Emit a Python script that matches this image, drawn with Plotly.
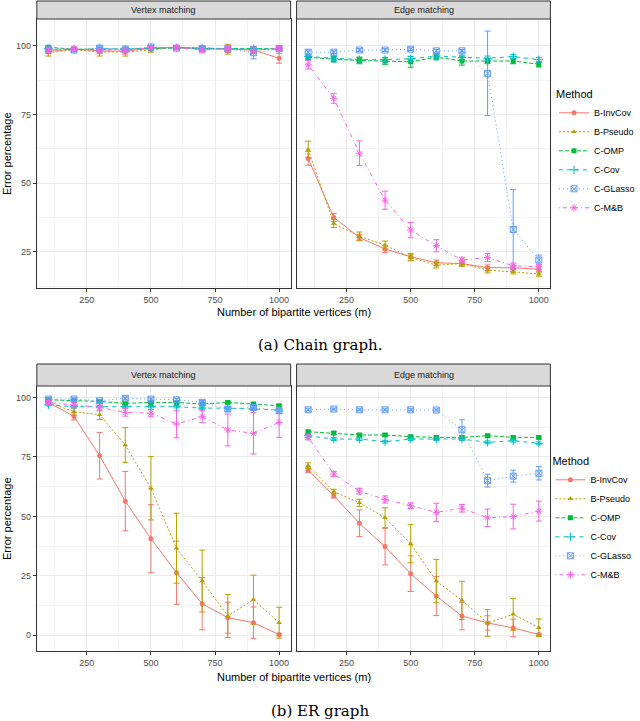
import plotly.graph_objects as go

# x values: number of bipartite vertices
m_vals = [100, 200, 300, 400, 500, 600, 700, 800, 900, 1000]

methods = ["B-InvCov", "B-Pseudo", "C-OMP", "C-Cov", "C-GLasso", "C-M&B"]
colors = ["#F8766D", "#B79F00", "#00BA38", "#00BFC4", "#619CFF", "#F564E3"]
symbols = ["circle", "triangle-up", "square", "cross-thin-open", "square-x-open", "asterisk-open"]
dashes = ["solid", "2px,2px", "4px,2px", "4px,4px", "1px,3px", "1px,3px,4px,3px"]

# (a) chain graph, vertex matching
chain_vtx = {
    "B-InvCov": [98.0, 98.8, 98.2, 98.0, 99.2, 99.5, 99.0, 98.8, 98.5, 95.5],
    "B-Pseudo": [97.5, 98.6, 97.8, 97.8, 98.5, 99.5, 99.3, 98.8, 98.5, 99.0],
    "C-OMP": [99.5, 98.8, 98.8, 98.8, 99.0, 99.3, 99.0, 99.0, 99.0, 99.0],
    "C-Cov": [99.0, 98.6, 99.0, 98.8, 99.3, 99.3, 99.2, 99.0, 99.0, 98.8],
    "C-GLasso": [98.8, 98.5, 99.2, 98.8, 99.6, 99.2, 99.0, 99.0, 97.5, 99.0],
    "C-M&B": [98.5, 99.0, 98.5, 98.5, 99.3, 99.3, 98.5, 99.0, 98.5, 99.0],
}
chain_vtx_sd = {
    "B-InvCov": [0.8, 0.6, 1.0, 1.0, 0.6, 0.5, 0.8, 1.2, 1.0, 1.8],
    "B-Pseudo": [1.2, 0.6, 1.5, 1.5, 0.8, 0.5, 0.8, 1.8, 1.2, 1.0],
    "C-OMP": [0.5, 0.5, 0.5, 0.5, 0.5, 0.5, 0.5, 0.5, 0.5, 0.5],
    "C-Cov": [0.5, 0.5, 0.5, 0.5, 0.5, 0.5, 0.5, 0.5, 0.5, 0.5],
    "C-GLasso": [0.6, 0.6, 0.8, 0.6, 0.5, 0.5, 0.6, 0.8, 2.2, 0.8],
    "C-M&B": [0.8, 0.6, 0.8, 0.8, 0.5, 0.5, 1.0, 0.8, 1.0, 0.8],
}

# (a) chain graph, edge matching
chain_edge = {
    "B-InvCov": [59.0, 37.5, 30.2, 26.0, 23.2, 21.0, 20.7, 19.2, 19.2, 18.6],
    "B-Pseudo": [62.3, 35.3, 30.7, 27.4, 22.9, 20.1, 20.7, 18.3, 17.7, 16.9],
    "C-OMP": [95.9, 95.1, 94.7, 94.5, 94.2, 95.9, 94.5, 94.5, 94.5, 93.3],
    "C-Cov": [96.1, 95.5, 95.0, 95.0, 95.3, 96.3, 95.8, 95.5, 96.1, 95.0],
    "C-GLasso": [97.7, 97.7, 98.5, 98.5, 98.8, 98.2, 98.2, 90.0, 33.1, 22.0],
    "C-M&B": [93.1, 80.9, 60.9, 43.8, 32.9, 27.2, 22.0, 22.9, 19.9, 19.5],
}
chain_edge_sd = {
    "B-InvCov": [2.5, 1.5, 1.2, 1.3, 1.2, 1.0, 0.8, 1.0, 0.8, 1.0],
    "B-Pseudo": [3.0, 1.5, 1.5, 1.5, 1.2, 1.0, 1.0, 1.0, 0.8, 0.8],
    "C-OMP": [1.0, 1.0, 1.2, 1.2, 2.0, 1.0, 1.5, 1.0, 1.0, 1.0],
    "C-Cov": [0.8, 0.8, 0.8, 0.8, 0.8, 0.8, 0.8, 0.8, 0.8, 0.8],
    "C-GLasso": [0.8, 0.5, 0.5, 0.5, 0.5, 0.5, 0.5, 15.4, 14.6, 1.8],
    "C-M&B": [1.5, 1.8, 4.5, 3.3, 2.8, 2.2, 1.0, 1.5, 1.0, 1.0],
}

# (b) ER graph, vertex matching
er_vtx = {
    "B-InvCov": [97.9, 92.0, 75.5, 56.4, 40.6, 26.3, 13.3, 7.4, 5.3, 0.3],
    "B-Pseudo": [97.9, 94.0, 92.7, 80.0, 61.8, 36.6, 22.8, 8.1, 15.0, 5.3],
    "C-OMP": [99.0, 98.6, 98.3, 97.5, 97.9, 97.9, 97.2, 97.9, 97.2, 96.5],
    "C-Cov": [96.9, 96.1, 96.1, 96.1, 96.1, 96.1, 95.5, 95.5, 95.1, 94.7],
    "C-GLasso": [99.3, 99.3, 98.6, 99.6, 99.3, 99.0, 97.9, 95.1, 95.8, 94.4],
    "C-M&B": [97.9, 96.9, 95.8, 93.7, 93.4, 88.8, 91.9, 86.3, 84.9, 89.5],
}
er_vtx_sd = {
    "B-InvCov": [0.8, 1.5, 9.8, 12.5, 14.3, 13.3, 11.0, 6.5, 6.6, 0.5],
    "B-Pseudo": [0.8, 1.5, 2.0, 7.3, 13.3, 14.7, 13.0, 9.0, 10.3, 6.5],
    "C-OMP": [0.5, 0.5, 0.5, 0.5, 0.5, 0.5, 0.5, 0.5, 0.5, 0.5],
    "C-Cov": [0.5, 0.5, 0.5, 0.5, 0.5, 0.5, 0.5, 0.5, 0.5, 0.5],
    "C-GLasso": [0.5, 0.5, 0.5, 0.6, 0.5, 0.5, 0.8, 1.0, 1.0, 1.2],
    "C-M&B": [1.0, 1.2, 1.5, 1.6, 1.5, 5.8, 2.5, 6.7, 8.7, 6.3],
}

# (b) ER graph, edge matching
er_edge = {
    "B-InvCov": [69.5, 58.7, 47.1, 37.3, 25.9, 16.5, 8.1, 5.2, 3.1, 0.3],
    "B-Pseudo": [71.3, 60.4, 55.7, 49.4, 38.5, 22.8, 14.7, 5.2, 8.8, 3.2],
    "C-OMP": [85.6, 85.0, 84.2, 84.2, 83.5, 83.2, 83.2, 83.9, 83.2, 83.2],
    "C-Cov": [83.9, 82.5, 82.5, 81.4, 82.5, 82.5, 82.5, 81.1, 81.8, 80.7],
    "C-GLasso": [94.8, 95.1, 94.8, 94.8, 94.8, 94.7, 86.4, 65.0, 66.9, 68.1],
    "C-M&B": [83.2, 67.8, 60.6, 57.1, 54.5, 51.7, 53.4, 49.4, 49.9, 52.2],
}
er_edge_sd = {
    "B-InvCov": [1.0, 1.0, 5.6, 7.7, 7.5, 8.2, 5.8, 3.0, 3.7, 0.5],
    "B-Pseudo": [1.2, 1.0, 1.5, 4.2, 8.0, 9.1, 8.0, 5.6, 6.7, 3.7],
    "C-OMP": [0.6, 0.6, 0.6, 0.6, 0.6, 0.6, 0.6, 0.6, 0.6, 0.6],
    "C-Cov": [0.6, 0.6, 0.6, 0.6, 0.6, 0.6, 0.6, 0.6, 0.6, 0.6],
    "C-GLasso": [0.4, 0.4, 0.4, 0.4, 0.4, 0.4, 4.2, 2.7, 2.5, 2.8],
    "C-M&B": [1.0, 1.0, 1.2, 1.5, 1.2, 3.8, 1.6, 3.7, 5.2, 4.2],
}

W, H = 640, 721
def px(x):
    return x / W
def py(y):
    return 1 - y / H

fig = go.Figure()

panels = [
    # data, sd, axis suffix, legend, show legend
    (chain_vtx, chain_vtx_sd, "", "legend", True),
    (chain_edge, chain_edge_sd, "2", "legend", False),
    (er_vtx, er_vtx_sd, "3", "legend2", True),
    (er_edge, er_edge_sd, "4", "legend2", False),
]

for data, sd, ax, leg, show in panels:
    for i, name in enumerate(methods):
        open_sym = symbols[i].endswith("open")
        fig.add_trace(go.Scatter(
            x=m_vals, y=data[name], name=name, mode="lines+markers",
            xaxis="x" + ax, yaxis="y" + ax, legend=leg, showlegend=show,
            legendgroup=leg + name,
            line=dict(color=colors[i], width=1, dash=dashes[i]),
            marker=dict(symbol=symbols[i], size=6 if open_sym else 5, color=colors[i],
                        line=dict(color=colors[i], width=1 if open_sym else 0)),
            error_y=dict(type="data", array=sd[name], visible=True,
                         color=colors[i], thickness=1, width=3),
        ))

font_ax = dict(family="Liberation Sans, Arial", size=9, color="#4D4D4D")
grid = "#EBEBEB"
x_left = [px(37), px(292)]
x_right = [px(298), px(553)]
top_dom = [py(288), py(19)]
bot_dom = [py(651), py(386)]

def xaxis(dom, anchor):
    return dict(domain=dom, anchor=anchor, range=[55, 1045], tick0=0, dtick=250,
                showgrid=True, gridcolor=grid, gridwidth=1, zeroline=False,
                minor=dict(dtick=125, tick0=0, showgrid=True, gridcolor="#F3F3F3", gridwidth=0.6),
                showline=True, mirror=True, linecolor="#333333", linewidth=1,
                ticks="outside", ticklen=3, tickcolor="#333333", tickfont=font_ax)

def yaxis(dom, anchor, rng, labels):
    return dict(domain=dom, anchor=anchor, range=rng, tick0=0, dtick=25,
                showgrid=True, gridcolor=grid, gridwidth=1, zeroline=False,
                minor=dict(dtick=12.5, tick0=0, showgrid=True, gridcolor="#F3F3F3", gridwidth=0.6),
                showline=True, mirror=True, linecolor="#333333", linewidth=1,
                ticks="outside" if labels else "", ticklen=3, tickcolor="#333333",
                showticklabels=labels, tickfont=font_ax)

top_rng = [11.8, 109.8]
bot_rng = [-6.6, 104.8]

fig.update_layout(
    width=W, height=H, margin=dict(l=0, r=0, t=0, b=0),
    paper_bgcolor="white", plot_bgcolor="white",
    font=dict(family="Liberation Sans, Arial", color="black"),
    xaxis=xaxis(x_left, "y"), yaxis=yaxis(top_dom, "x", top_rng, True),
    xaxis2=xaxis(x_right, "y2"), yaxis2=yaxis(top_dom, "x2", top_rng, False),
    xaxis3=xaxis(x_left, "y3"), yaxis3=yaxis(bot_dom, "x3", bot_rng, True),
    xaxis4=xaxis(x_right, "y4"), yaxis4=yaxis(bot_dom, "x4", bot_rng, False),
    legend=dict(x=px(557), y=py(84), xanchor="left", yanchor="top",
                title=dict(text="Method", font=dict(size=11)),
                font=dict(size=9), tracegroupgap=0, itemwidth=30,
                bgcolor="rgba(0,0,0,0)"),
    legend2=dict(x=px(553), y=py(451), xanchor="left", yanchor="top",
                 title=dict(text="Method", font=dict(size=11)),
                 font=dict(size=9), tracegroupgap=0, itemwidth=30,
                 bgcolor="rgba(0,0,0,0)"),
)

# facet strips
strips = [
    (x_left, py(19), py(1), "Vertex matching"),
    (x_right, py(19), py(1), "Edge matching"),
    (x_left, py(386), py(364), "Vertex matching"),
    (x_right, py(386), py(364), "Edge matching"),
]
for (x0, x1), y0, y1, label in strips:
    fig.add_shape(type="rect", xref="paper", yref="paper", x0=x0, x1=x1, y0=y0, y1=y1,
                  fillcolor="#D9D9D9", line=dict(color="#333333", width=1))
    fig.add_annotation(xref="paper", yref="paper", x=(x0 + x1) / 2, y=(y0 + y1) / 2,
                       xanchor="center", yanchor="middle",
                       text=label, showarrow=False, font=dict(size=9, color="#1A1A1A"))

# axis titles and captions
for ytitle_c, xtitle_y, cap_y, cap in [
    (153, 312, 345, "(a) Chain graph."),
    (518, 677, 711, "(b) ER graph"),
]:
    fig.add_annotation(xref="paper", yref="paper", x=px(7), y=py(ytitle_c),
                       xanchor="center", yanchor="middle",
                       text="Error percentage", textangle=-90, showarrow=False,
                       font=dict(size=11))
    fig.add_annotation(xref="paper", yref="paper", x=px(295), y=py(xtitle_y),
                       xanchor="center", yanchor="middle",
                       text="Number of bipartite vertices (m)", showarrow=False,
                       font=dict(size=11))
    fig.add_annotation(xref="paper", yref="paper", x=px(322), y=py(cap_y),
                       xanchor="center", yanchor="middle",
                       text=cap, showarrow=False,
                       font=dict(family="DejaVu Serif, Liberation Serif", size=15))

fig.write_html("out.html", config={"displayModeBar": False},
               post_script="document.body.style.margin='0';")
